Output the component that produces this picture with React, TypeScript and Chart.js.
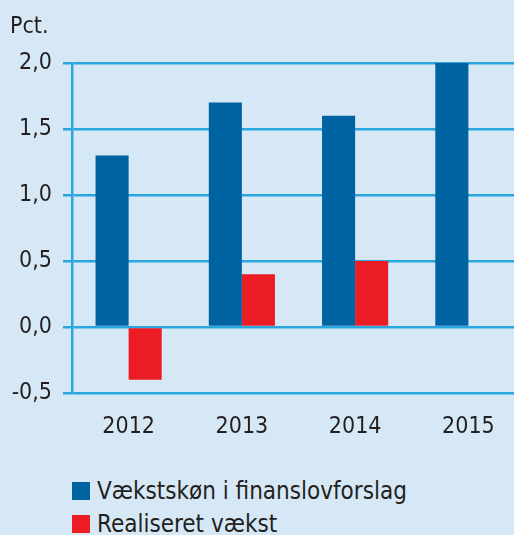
import React, { useEffect, useRef } from "react";
import { Chart, registerables } from "chart.js";

Chart.register(...registerables);

const categories = ["2012", "2013", "2014", "2015"];
const forecastLabel = "Vækstskøn i finanslovforslag";
const realisedLabel = "Realiseret vækst";
const forecastValues = [1.3, 1.7, 1.6, 2.0];
const realisedValues: (number | null)[] = [-0.4, 0.4, 0.5, null];
const yUnit = "Pct.";

const BG = "#d6e8f5";
const GRID = "#27a6df";
const BLUE = "#0063a1";
const RED = "#ec1c24";
const TEXT = "#231f20";
const FONT = "'DejaVu Sans Condensed', 'DejaVu Sans', sans-serif";

export default function App() {
  const ref = useRef<HTMLCanvasElement | null>(null);

  useEffect(() => {
    if (!ref.current) return;
    const chart = new Chart(ref.current, {
      type: "bar",
      data: {
        labels: categories,
        datasets: [
          {
            label: forecastLabel,
            data: forecastValues,
            backgroundColor: BLUE,
            barPercentage: 1,
            categoryPercentage: 0.584,
          },
          {
            label: realisedLabel,
            data: realisedValues,
            backgroundColor: RED,
            barPercentage: 1,
            categoryPercentage: 0.584,
          },
        ],
      },
      options: {
        animation: false,
        responsive: false,
        maintainAspectRatio: false,
        layout: { padding: { top: 63, left: 0, right: 0, bottom: 0 } },
        plugins: {
          legend: { display: false },
          tooltip: { enabled: false },
        },
        scales: {
          x: {
            grid: { display: false, drawTicks: false },
            border: { display: false },
            ticks: {
              color: TEXT,
              font: { family: FONT, size: 23 },
              padding: 20,
            },
            afterFit: (s: any) => {
              s.height = 57;
            },
          },
          y: {
            min: -0.5,
            max: 2.0,
            grid: {
              color: GRID,
              lineWidth: 2.5,
              tickLength: 9,
              drawTicks: true,
            },
            border: { display: true, color: GRID, width: 2.5 },
            ticks: {
              stepSize: 0.5,
              color: TEXT,
              font: { family: FONT, size: 23 },
              padding: 11,
              callback: (v: any) => Number(v).toFixed(1).replace(".", ","),
            },
            afterFit: (s: any) => {
              s.width = 72;
            },
          },
        },
      },
    });
    return () => chart.destroy();
  }, []);

  const legendItem = (color: string, label: string, top: number) => (
    <div
      style={{
        position: "absolute",
        left: 72,
        top,
        display: "flex",
        alignItems: "center",
        height: 20,
      }}
    >
      <div style={{ width: 18, height: 18, background: color }} />
      <span
        style={{
          marginLeft: 7,
          fontFamily: FONT,
          fontSize: 24,
          color: TEXT,
          lineHeight: "20px",
          whiteSpace: "nowrap",
        }}
      >
        {label}
      </span>
    </div>
  );

  return (
    <div
      style={{
        position: "fixed",
        left: 0,
        top: 0,
        width: 514,
        height: 535,
        overflow: "hidden",
        background: BG,
      }}
    >
      <canvas
        ref={ref}
        width={525}
        height={450}
        style={{ position: "absolute", left: 0, top: 0, width: 525, height: 450 }}
      />
      <div
        style={{
          position: "absolute",
          left: 10,
          top: 12,
          fontFamily: FONT,
          fontSize: 23,
          color: TEXT,
        }}
      >
        {yUnit}
      </div>
      {legendItem(BLUE, forecastLabel, 481)}
      {legendItem(RED, realisedLabel, 514)}
    </div>
  );
}
